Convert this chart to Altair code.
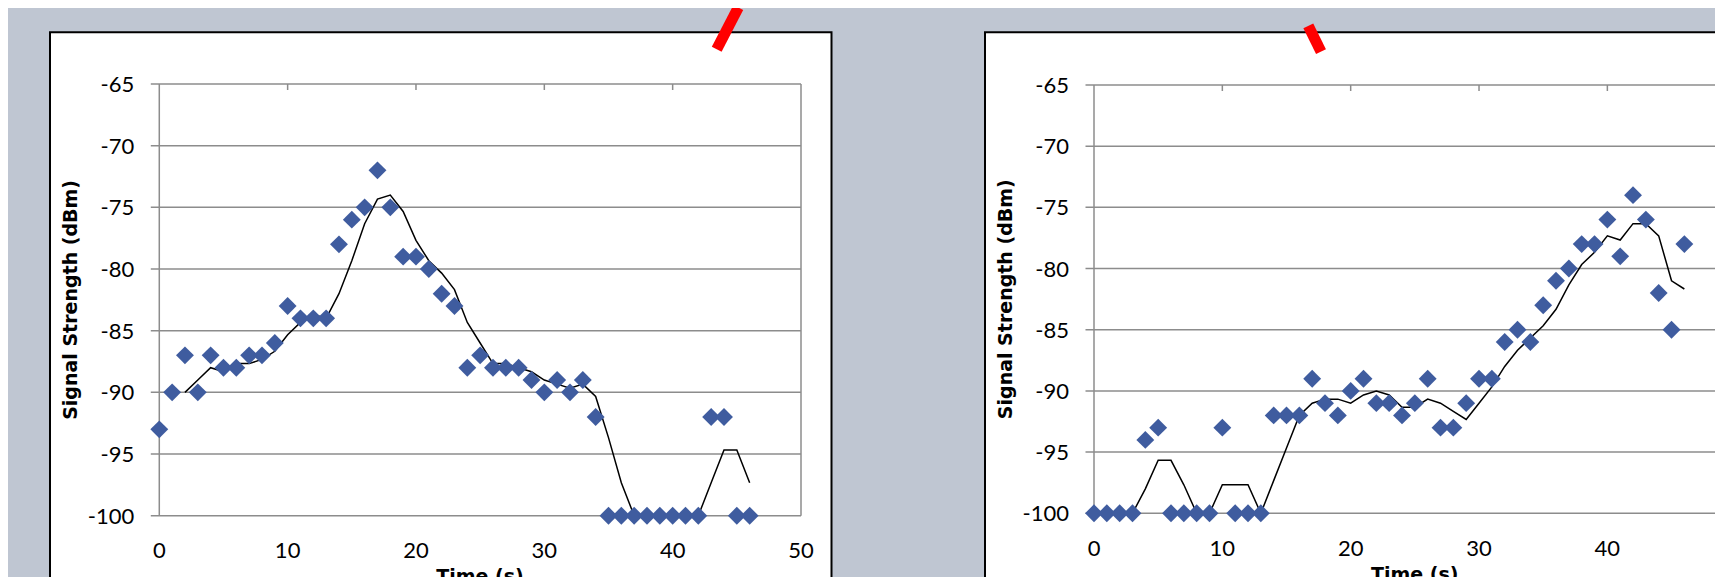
import altair as alt
import pandas as pd

# ---------------- data ----------------
time_s = list(range(47))
left_rssi = [-93, -90, -87, -90, -87, -88, -88, -87, -87, -86, -83, -84, -84, -84, -78, -76,
             -75, -72, -75, -79, -79, -80, -82, -83, -88, -87, -88, -88, -88, -89, -90, -89,
             -90, -89, -92, -100, -100, -100, -100, -100, -100, -100, -100, -92, -92, -100, -100]
right_rssi = [-100, -100, -100, -100, -94, -93, -100, -100, -100, -100, -93, -100, -100, -100,
              -92, -92, -92, -89, -91, -92, -90, -89, -91, -91, -92, -91, -89, -93, -93, -91,
              -89, -89, -86, -85, -86, -83, -81, -80, -78, -78, -76, -79, -74, -76, -82, -85, -78]

avg_time = list(range(2, 47))
left_avg = [-90, -89, -88, -88.33, -87.67, -87.67, -87.33, -86.67, -85.33, -84.33, -83.67, -84,
            -82, -79.33, -76.33, -74.33, -74, -75.33, -77.67, -79.33, -80.33, -81.67, -84.33,
            -86, -87.67, -87.67, -88, -88.33, -89, -89.33, -89.67, -89.33, -90.33, -93.67,
            -97.33, -100, -100, -100, -100, -100, -100, -97.33, -94.67, -94.67, -97.33]
right_avg = [-100, -100, -98, -95.67, -95.67, -97.67, -100, -100, -97.67, -97.67, -97.67, -100,
             -97.33, -94.67, -92, -91, -90.67, -90.67, -91, -90.33, -90, -90.33, -91.33, -91.33,
             -90.67, -91, -91.67, -92.33, -91, -89.67, -88, -86.67, -85.67, -84.67, -83.33,
             -81.33, -79.67, -78.67, -77.33, -77.67, -76.33, -76.33, -77.33, -81, -81.67]

y_ticks = [-65, -70, -75, -80, -85, -90, -95, -100]
y_tick_labels = ["-65", "-70", "-75", "-80", "-85", "-90", "-95", "-100"]
x_ticks = [0, 10, 20, 30, 40, 50]
x_tick_labels = ["0", "10", "20", "30", "40", "50"]
x_top_ticks = [10, 20, 30, 40]
frame_x = [0, 50]
x_title = "Time (s)"
y_title = "Signal Strength (dBm)"

# ---------------- style ----------------
W, H = 1707, 569
BG = "#BFC6D2"
GRID = "#8C8C8C"
PT = "#3F5C9F"
LABEL_FONT = "Lato"
TITLE_FONT = "DejaVu Sans"

one = pd.DataFrame({"a": [0]})


def panel(pts, avg, xs, ys, y_title_x, y_title_y, x_title_x, x_title_y):
    pts_df = pd.DataFrame({"t": time_s, "v": pts})
    avg_df = pd.DataFrame({"t": avg_time, "v": avg})
    grid_df = pd.DataFrame({"g": y_ticks, "lbl": y_tick_labels})
    xl_df = pd.DataFrame({"k": x_ticks, "lbl": x_tick_labels})
    tick_df = pd.DataFrame({"k": x_top_ticks})
    frame_df = pd.DataFrame({"f": frame_x})

    grid = alt.Chart(grid_df).mark_rule(color=GRID, strokeWidth=1.5, xOffset=-8.5).encode(
        y=alt.Y("g:Q", scale=ys, axis=None),
        x=alt.XDatum(0, scale=xs, axis=None),
        x2=alt.X2Datum(50),
    )
    frame = alt.Chart(frame_df).mark_rule(color=GRID, strokeWidth=1.5).encode(
        x=alt.X("f:Q", scale=xs, axis=None),
        y=alt.YDatum(-65, scale=ys, axis=None),
        y2=alt.Y2Datum(-100),
    )
    ticks = alt.Chart(tick_df).mark_rule(color=GRID, strokeWidth=1.5, y2Offset=6).encode(
        x=alt.X("k:Q", scale=xs, axis=None),
        y=alt.YDatum(-65, scale=ys, axis=None),
        y2=alt.Y2Datum(-65),
    )
    line = alt.Chart(avg_df).mark_line(color="black", strokeWidth=1.5).encode(
        x=alt.X("t:Q", scale=xs, axis=None),
        y=alt.Y("v:Q", scale=ys, axis=None),
    )
    points = alt.Chart(pts_df).mark_point(
        shape="diamond", filled=True, size=320, color=PT, opacity=1
    ).encode(
        x=alt.X("t:Q", scale=xs, axis=None),
        y=alt.Y("v:Q", scale=ys, axis=None),
    )
    # tick labels, placed through the scales
    ylab = alt.Chart(grid_df).mark_text(
        align="right", baseline="alphabetic", dx=-25, dy=8,
        font=LABEL_FONT, fontSize=22, color="#000000"
    ).encode(
        y=alt.Y("g:Q", scale=ys, axis=None),
        x=alt.XDatum(0, scale=xs, axis=None),
        text="lbl:N",
    )
    xlab = alt.Chart(xl_df).mark_text(
        align="center", baseline="alphabetic", dy=42.6,
        font=LABEL_FONT, fontSize=22, color="#000000"
    ).encode(
        x=alt.X("k:Q", scale=xs, axis=None),
        y=alt.YDatum(-100, scale=ys, axis=None),
        text="lbl:N",
    )
    ytitle = alt.Chart(one).mark_text(
        text=y_title, angle=270, align="center", baseline="alphabetic",
        font=TITLE_FONT, fontSize=19, fontWeight="bold", color="#000000"
    ).encode(x=alt.value(y_title_x), y=alt.value(y_title_y))
    xtitle = alt.Chart(one).mark_text(
        text=x_title, align="center", baseline="alphabetic",
        font=TITLE_FONT, fontSize=19, fontWeight="bold", color="#000000"
    ).encode(x=alt.value(x_title_x), y=alt.value(x_title_y))
    return alt.layer(grid, frame, ticks, line, points, ylab, xlab, ytitle, xtitle)


LX = alt.Scale(domain=[0, 50], range=[151.3, 793.0], nice=False, zero=False)
LY = alt.Scale(domain=[-100, -65], range=[507.7, 76.0], nice=False, zero=False)
RX = alt.Scale(domain=[0, 50], range=[1086.0, 1727.7], nice=False, zero=False)
RY = alt.Scale(domain=[-100, -65], range=[505.3, 77.0], nice=False, zero=False)

left_panel = panel(left_rssi, left_avg, LX, LY, 69.2, 291.9, 472.0, 575.0)
right_panel = panel(right_rssi, right_avg, RX, RY, 1004.0, 291.2, 1406.8, 572.6)

# slide frames around each chart
box_left = alt.Chart(one).mark_rect(fill="white", stroke="black", strokeWidth=2).encode(
    x=alt.value(42), x2=alt.value(823.5), y=alt.value(24.3), y2=alt.value(680))
box_right = alt.Chart(one).mark_rect(fill="white", stroke="black", strokeWidth=2).encode(
    x=alt.value(977), x2=alt.value(1900), y=alt.value(24.3), y2=alt.value(680))

# red annotation strokes
red1 = alt.Chart(one).mark_rule(color="#FF0000", strokeWidth=11, strokeCap="butt").encode(
    x=alt.value(730.3), y=alt.value(-0.5), x2=alt.value(708.7), y2=alt.value(41.2))
red2 = alt.Chart(one).mark_rule(color="#FF0000", strokeWidth=11, strokeCap="butt").encode(
    x=alt.value(1300.3), y=alt.value(17.8), x2=alt.value(1313.0), y2=alt.value(43.7))

chart = (
    alt.layer(box_left, box_right, left_panel, right_panel, red1, red2)
    .resolve_scale(x="independent", y="independent")
    .properties(width=W, height=H, padding=0, autosize=alt.AutoSizeParams(type="none"))
    .configure(background=BG)
    .configure_view(strokeWidth=0)
)

chart.save("out.html", embed_options={"renderer": "svg", "actions": False})
